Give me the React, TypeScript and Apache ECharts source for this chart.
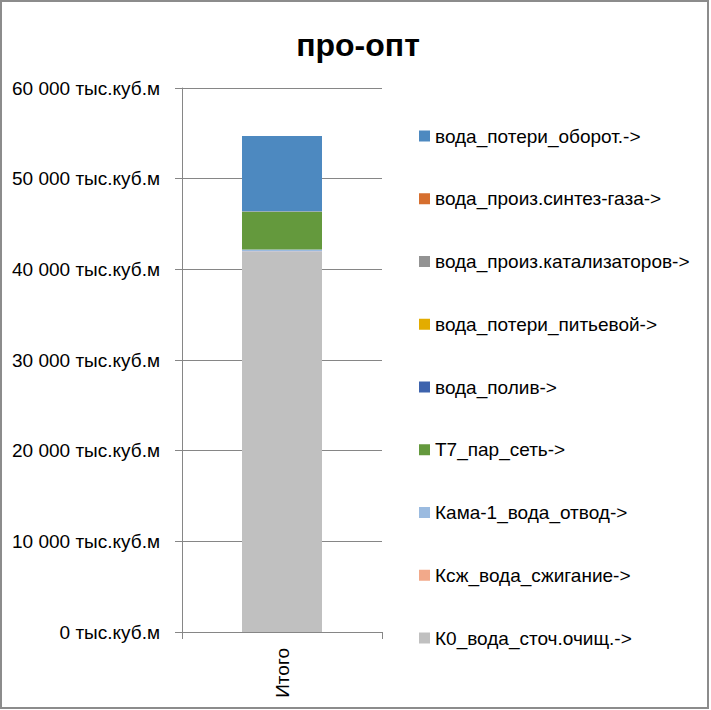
import React, { useEffect, useRef } from "react";
import * as echarts from "echarts";

const categories = ["Итого"];
const seriesNames = [
  "К0_вода_сточ.очищ.->",
  "Ксж_вода_сжигание->",
  "Кама-1_вода_отвод->",
  "Т7_пар_сеть->",
  "вода_полив->",
  "вода_потери_питьевой->",
  "вода_произ.катализаторов->",
  "вода_произ.синтез-газа->",
  "вода_потери_оборот.->",
];
const seriesValues = [
  [41900],
  [80],
  [220],
  [4150],
  [0],
  [0],
  [60],
  [0],
  [8300],
];
const seriesColors = [
  "#C0C0C0",
  "#F2A98A",
  "#9BBBE0",
  "#64993D",
  "#3D63AD",
  "#E3AC00",
  "#939393",
  "#D66F2F",
  "#4D89C0",
];
const yTicks = [0, 10000, 20000, 30000, 40000, 50000, 60000];

const FONT = "Liberation Sans";

function fmt(v: number): string {
  const s = String(Math.round(v));
  const withSep = s.replace(/\B(?=(\d{3})+(?!\d))/g, " ");
  return withSep + " тыс.куб.м";
}

export default function App() {
  const ref = useRef<HTMLDivElement>(null);
  useEffect(() => {
    if (!ref.current) return;
    const chart = echarts.init(ref.current, undefined, { renderer: "svg" });
    chart.setOption({
      animation: false,
      backgroundColor: "#ffffff",
      title: {
        text: "про-опт",
        left: 353,
        textAlign: "center",
        top: 24,
        textStyle: {
          fontFamily: FONT,
          fontSize: 32,
          lineHeight: 32,
          fontWeight: "bold",
          color: "#000000",
        },
      },
      grid: { left: 182, top: 88, width: 200, height: 544, containLabel: false },
      legend: {
        orient: "vertical",
        left: 419,
        top: 126,
        padding: 0,
        itemGap: 42.75,
        itemWidth: 11,
        itemHeight: 11,
        icon: "rect",
        data: [...seriesNames].reverse(),
        textStyle: {
          fontFamily: FONT,
          fontSize: 19,
          lineHeight: 20,
          color: "#000000",
        },
      },
      xAxis: {
        type: "category",
        data: categories,
        axisLine: { lineStyle: { color: "#868686", width: 1 } },
        axisTick: { show: true, length: 7, alignWithLabel: false, lineStyle: { color: "#868686" } },
        axisLabel: {
          rotate: 90,
          margin: 16,
          fontFamily: FONT,
          fontSize: 19,
          color: "#000000",
        },
      },
      yAxis: {
        type: "value",
        min: yTicks[0],
        max: yTicks[yTicks.length - 1],
        interval: yTicks[1] - yTicks[0],
        axisLine: { show: true, lineStyle: { color: "#868686", width: 1 } },
        axisTick: { show: true, length: 7, lineStyle: { color: "#868686" } },
        splitLine: { show: true, lineStyle: { color: "#868686", width: 1 } },
        axisLabel: {
          margin: 22,
          fontFamily: FONT,
          fontSize: 19,
          color: "#000000",
          formatter: (v: number) => fmt(v),
        },
      },
      series: seriesNames.map((name, i) => ({
        name,
        type: "bar",
        stack: "total",
        barWidth: 80,
        data: seriesValues[i],
        itemStyle: { color: seriesColors[i] },
      })),
      graphic: [
        {
          type: "rect",
          shape: { x: 1, y: 1, width: 707, height: 707 },
          style: { fill: "none", stroke: "#8C8C8C", lineWidth: 2 },
          silent: true,
          z: 100,
        },
      ],
    });
    return () => chart.dispose();
  }, []);
  return (
    <div
      ref={ref}
      style={{ position: "absolute", left: 0, top: 0, width: 711, height: 710 }}
    />
  );
}
